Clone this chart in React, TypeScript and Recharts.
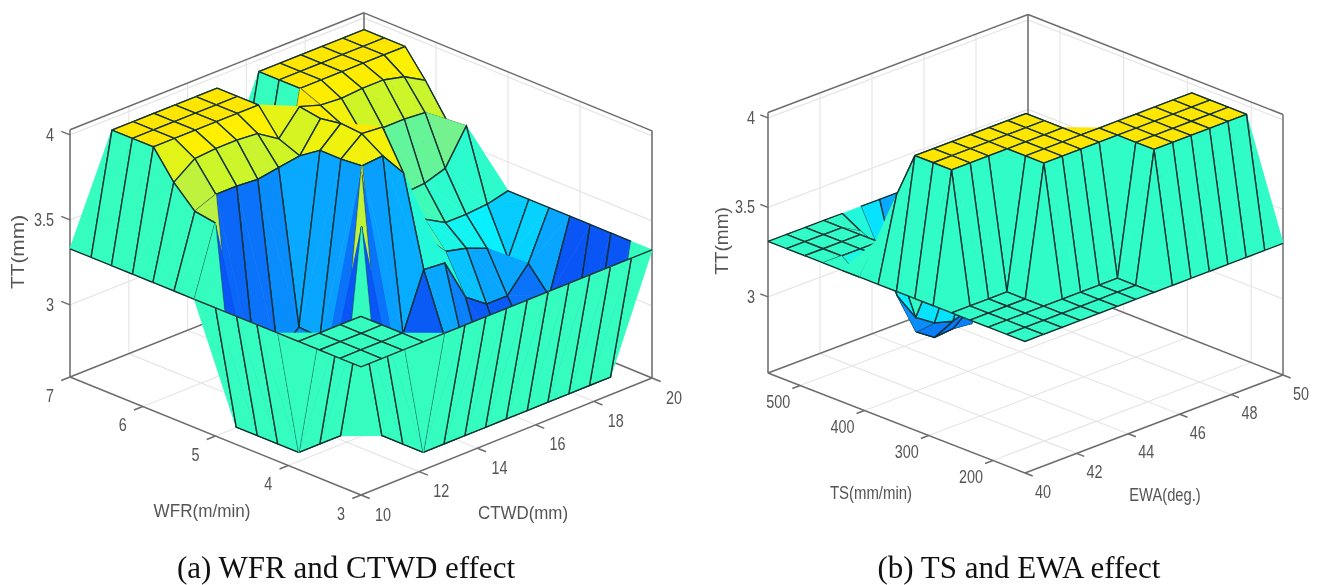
import React from 'react'
import { ScatterChart, Scatter, XAxis, YAxis } from 'recharts'

// grid values of the two surfaces
const ctwdGrid = [10, 10.71, 11.43, 12.14, 12.86, 13.57, 14.29, 15, 15.71, 16.43, 17.14, 17.86, 18.57, 19.29, 20]
const wfrGrid = [3, 3.29, 3.57, 3.86, 4.14, 4.43, 4.71, 5, 5.29, 5.57, 5.86, 6.14, 6.43, 6.71, 7]
const ewaGrid = [40, 40.71, 41.43, 42.14, 42.86, 43.57, 44.29, 45, 45.71, 46.43, 47.14, 47.86, 48.57, 49.29, 50]
const tsGrid = [150, 178.6, 207.1, 235.7, 264.3, 292.9, 321.4, 350, 378.6, 407.1, 435.7, 464.3, 492.9, 521.4, 550]

// TT (mm), one row per WFR value, one column per CTWD value
const ttWfrCtwd = [
  [3.33, 3.33, 3.33, 3.33, 3.33, 3.33, 3.33, 3.33, 3.33, 3.33, 3.33, 3.33, 3.33, 3.33, 3.33],
  [3.33, 3.33, 3.33, 3.33, 2.58, 2.58, 2.58, 2.58, 2.58, 2.58, 2.58, 2.58, 2.58, 2.58, 3.33],
  [3.33, 3.33, 3.33, 3.33, 2.58, 2.58, 2.58, 2.58, 2.58, 2.58, 2.58, 2.58, 2.58, 2.58, 3.33],
  [3.33, 3.33, 3.33, 3.33, 2.58, 2.58, 2.58, 2.58, 2.58, 2.58, 2.58, 2.58, 2.58, 2.58, 3.33],
  [3.33, 2.58, 2.58, 2.58, 3.76, 2.7, 2.65, 2.6, 2.91, 2.75, 2.6, 2.6, 2.7, 2.91, 3.33],
  [3.33, 2.58, 2.58, 2.58, 2.7, 3.98, 2.88, 2.93, 3.26, 3.25, 3.0, 2.91, 2.91, 3.05, 3.33],
  [3.33, 2.58, 2.58, 2.58, 2.7, 2.88, 3.92, 3.93, 3.78, 3.36, 3.22, 3.19, 3.14, 3.03, 3.33],
  [3.33, 2.58, 2.6, 2.7, 2.8, 2.91, 3.91, 4.01, 4.0, 3.6, 3.36, 3.29, 3.29, 3.3, 3.33],
  [3.33, 3.73, 2.65, 2.7, 2.8, 2.92, 3.91, 4.02, 3.91, 3.71, 3.46, 3.47, 3.51, 3.71, 3.33],
  [3.33, 3.75, 3.8, 3.8, 3.79, 3.81, 3.83, 4.0, 3.92, 3.81, 3.8, 3.8, 3.79, 3.7, 3.33],
  [3.33, 3.87, 3.96, 3.97, 3.97, 3.96, 3.88, 4.02, 3.98, 3.97, 3.98, 3.98, 3.95, 3.88, 3.33],
  [3.33, 4.03, 4.03, 4.03, 4.03, 4.03, 4.03, 3.33, 4.03, 4.03, 4.03, 4.03, 4.03, 4.03, 3.33],
  [3.33, 4.03, 4.03, 4.03, 4.03, 4.03, 4.03, 3.33, 4.03, 4.03, 4.03, 4.03, 4.03, 4.03, 3.33],
  [3.33, 4.03, 4.03, 4.03, 4.03, 4.03, 4.03, 3.33, 4.03, 4.03, 4.03, 4.03, 4.03, 4.03, 3.33],
  [3.33, 3.33, 3.33, 3.33, 3.33, 3.33, 3.33, 3.33, 3.33, 3.33, 3.33, 3.33, 3.33, 3.33, 3.33]
]

// TT (mm), one row per TS value, one column per EWA value
const ttTsEwa = [
  [3.31, 3.31, 3.31, 3.31, 3.31, 3.31, 3.31, 3.31, 3.31, 3.31, 3.31, 3.31, 3.31, 3.31, 3.31],
  [3.31, 3.31, 3.31, 3.31, 3.31, 3.31, 3.31, 3.31, 4.03, 4.03, 4.03, 4.03, 4.03, 4.03, 3.31],
  [3.31, 3.31, 3.31, 3.31, 3.31, 3.31, 3.31, 3.31, 4.03, 4.03, 4.03, 4.03, 4.03, 4.03, 3.31],
  [3.31, 3.31, 3.31, 3.31, 4.03, 4.03, 4.03, 4.03, 4.03, 4.03, 4.03, 4.03, 4.03, 4.03, 3.31],
  [3.31, 3.31, 3.31, 3.31, 4.03, 4.03, 4.03, 4.03, 4.03, 4.03, 4.03, 4.03, 4.03, 4.03, 3.31],
  [3.31, 4.03, 4.03, 4.03, 4.03, 4.03, 4.03, 4.03, 3.31, 3.31, 3.31, 3.31, 3.31, 3.31, 3.31],
  [3.31, 4.03, 4.03, 4.03, 4.03, 4.03, 4.03, 4.03, 3.31, 3.31, 3.31, 3.31, 3.31, 3.31, 3.31],
  [3.31, 4.03, 4.03, 4.03, 4.03, 4.03, 4.03, 4.03, 3.31, 3.31, 3.31, 3.31, 3.31, 3.31, 3.31],
  [3.31, 3.77, 3.31, 3.31, 3.31, 3.31, 3.31, 3.31, 3.31, 3.31, 3.31, 3.31, 3.31, 3.31, 3.31],
  [3.31, 3.48, 3.31, 3.31, 3.31, 3.31, 3.31, 3.31, 3.31, 3.31, 3.31, 3.31, 3.31, 3.31, 3.31],
  [3.31, 3.23, 3.31, 3.31, 3.31, 3.1, 3.1, 3.1, 3.31, 3.31, 3.31, 3.31, 3.31, 3.31, 3.31],
  [3.31, 3.31, 3.31, 3.31, 3.15, 2.81, 2.74, 2.71, 2.75, 3.0, 3.31, 3.31, 3.31, 3.31, 3.31],
  [3.31, 3.31, 3.31, 3.31, 3.2, 2.89, 2.65, 2.58, 2.59, 2.58, 3.0, 3.31, 3.31, 3.31, 3.31],
  [3.31, 3.31, 3.31, 3.31, 3.25, 3.1, 2.92, 2.63, 2.58, 2.7, 3.31, 3.31, 3.31, 3.31, 3.31],
  [3.31, 3.31, 3.31, 3.31, 3.31, 3.31, 3.31, 3.31, 3.31, 3.31, 3.31, 3.31, 3.31, 3.31, 3.31]
]

const ttTicks = [3, 3.5, 4]
const ctwdTicks = [10, 12, 14, 16, 18, 20]
const wfrTicks = [3, 4, 5, 6, 7]
const ewaTicks = [40, 42, 44, 46, 48, 50]
const tsTicks = [200, 300, 400, 500]

const colorStops: [number, string][] = [
  [2.58, '#0a55f5'],
  [2.75, '#0a80fa'],
  [2.91, '#08a6ff'],
  [3.05, '#06d2ff'],
  [3.15, '#08f2ff'],
  [3.33, '#35fdc0'],
  [3.5, '#70f290'],
  [3.71, '#b4f04c'],
  [3.8, '#ccf52a'],
  [3.96, '#fff000'],
  [4.03, '#ffe600']
]

const hexToRgb = (hex: string) => [1, 3, 5].map(p => parseInt(hex.slice(p, p + 2), 16))

const colorFor = (z: number) => {
  for (let k = 1; k < colorStops.length; k++) {
    if (z <= colorStops[k][0]) {
      const [z0, c0] = colorStops[k - 1]
      const [z1, c1] = colorStops[k]
      const t = Math.max(0, (z - z0) / (z1 - z0))
      const a = hexToRgb(c0)
      const b = hexToRgb(c1)
      return `rgb(${a.map((v, n) => Math.round(v + (b[n] - v) * t)).join(',')})`
    }
  }
  return colorStops[colorStops.length - 1][1]
}

interface Frame {
  front: number[]
  right: number[]
  left: number[]
  twist: number
  zPx: number
  zMin: number
  zMax: number
  uRange: number[]
  vRange: number[]
}

const frameA: Frame = {
  front: [361, 495], right: [652, 378], left: [70, 377], twist: 3,
  zPx: 170, zMin: 2.576, zMax: 4.03, uRange: [10, 20], vRange: [3, 7]
}
const frameB: Frame = {
  front: [1025, 473], right: [1283, 375], left: [768, 373], twist: 2,
  zPx: 179, zMin: 2.575, zMax: 4.03, uRange: [40, 50], vRange: [150, 550]
}

// 3D value -> page plane, the chart's own x and y axes then place it
const project = (f: Frame, u: number, v: number, z: number) => {
  const fu = (u - f.uRange[0]) / (f.uRange[1] - f.uRange[0])
  const fv = (v - f.vRange[0]) / (f.vRange[1] - f.vRange[0])
  return [
    f.front[0] + fu * (f.right[0] - f.front[0]) + fv * (f.left[0] - f.front[0]) + fu * fv * f.twist,
    f.front[1] + fu * (f.right[1] - f.front[1]) + fv * (f.left[1] - f.front[1]) - (z - f.zMin) * f.zPx
  ]
}

const isConvex = (q: number[][]) => {
  let sign = 0
  for (let n = 0; n < 4; n++) {
    const [a, b, c] = [q[n], q[(n + 1) % 4], q[(n + 2) % 4]]
    const cross = (b[0] - a[0]) * (c[1] - b[1]) - (b[1] - a[1]) * (c[0] - b[0])
    if (cross !== 0) {
      if (sign !== 0 && Math.sign(cross) !== sign) return false
      sign = Math.sign(cross)
    }
  }
  return true
}

// faces ordered back to front so later ones paint over earlier ones
const buildFaces = (f: Frame, us: number[], vs: number[], tt: number[][]) => {
  const faces: any[] = []
  for (let s = us.length + vs.length - 4; s >= 0; s--) {
    for (let j = 0; j < vs.length - 1; j++) {
      const i = s - j
      if (i < 0 || i >= us.length - 1) continue
      const a = project(f, us[i], vs[j], tt[j][i])
      const b = project(f, us[i + 1], vs[j], tt[j][i + 1])
      const c = project(f, us[i + 1], vs[j + 1], tt[j + 1][i + 1])
      const d = project(f, us[i], vs[j + 1], tt[j + 1][i])
      const x = (a[0] + b[0] + c[0] + d[0]) / 4
      const y = (a[1] + b[1] + c[1] + d[1]) / 4
      faces.push({ x, y, pts: [a, b, c, d], fill: colorFor(tt[j][i]), convex: isConvex([a, b, c, d]) })
    }
  }
  return faces
}

const segment = (p: number[], q: number[]) => ({ x: (p[0] + q[0]) / 2, y: (p[1] + q[1]) / 2, p, q })

const buildGrid = (f: Frame, uTicks: number[], vTicks: number[]) => {
  const [u0, u1] = f.uRange
  const [v0, v1] = f.vRange
  const out: any[] = []
  uTicks.forEach(u => {
    out.push(segment(project(f, u, v0, f.zMin), project(f, u, v1, f.zMin)))
    out.push(segment(project(f, u, v1, f.zMin), project(f, u, v1, f.zMax)))
  })
  vTicks.forEach(v => {
    out.push(segment(project(f, u0, v, f.zMin), project(f, u1, v, f.zMin)))
    out.push(segment(project(f, u1, v, f.zMin), project(f, u1, v, f.zMax)))
  })
  ttTicks.forEach(z => {
    out.push(segment(project(f, u0, v1, z), project(f, u1, v1, z)))
    out.push(segment(project(f, u1, v1, z), project(f, u1, v0, z)))
  })
  return out
}

const buildBox = (f: Frame, uTicks: number[], vTicks: number[]) => {
  const [u0, u1] = f.uRange
  const [v0, v1] = f.vRange
  const du = (u1 - u0) * 0.03
  const dv = (v1 - v0) * 0.03
  const out = [
    segment(project(f, u0, v0, f.zMin), project(f, u1, v0, f.zMin)),
    segment(project(f, u0, v0, f.zMin), project(f, u0, v1, f.zMin)),
    segment(project(f, u1, v1, f.zMin), project(f, u0, v1, f.zMin)),
    segment(project(f, u1, v1, f.zMin), project(f, u1, v0, f.zMin)),
    segment(project(f, u0, v1, f.zMin), project(f, u0, v1, f.zMax)),
    segment(project(f, u1, v1, f.zMin), project(f, u1, v1, f.zMax)),
    segment(project(f, u1, v0, f.zMin), project(f, u1, v0, f.zMax)),
    segment(project(f, u0, v1, f.zMax), project(f, u1, v1, f.zMax)),
    segment(project(f, u1, v1, f.zMax), project(f, u1, v0, f.zMax))
  ]
  uTicks.forEach(u => out.push(segment(project(f, u, v0, f.zMin), project(f, u, v0 - dv, f.zMin))))
  vTicks.forEach(v => out.push(segment(project(f, u0, v, f.zMin), project(f, u0 - du, v, f.zMin))))
  ttTicks.forEach(z => out.push(segment(project(f, u0, v1, z), project(f, u0, v1 + dv, z))))
  return out
}

const buildLabels = (f: Frame, uTicks: number[], vTicks: number[], du: number[], dv: number[], zx: number) => {
  const [u0] = f.uRange
  const [v0, v1] = f.vRange
  const out: any[] = []
  uTicks.forEach(u => {
    const p = project(f, u, v0, f.zMin)
    out.push({ x: p[0] + du[0], y: p[1] + du[1], text: String(u) })
  })
  vTicks.forEach(v => {
    const p = project(f, u0, v, f.zMin)
    out.push({ x: p[0] + dv[0], y: p[1] + dv[1], text: String(v) })
  })
  ttTicks.forEach(z => {
    const p = project(f, u0, v1, z)
    out.push({ x: zx, y: p[1] - 1, text: String(z), anchor: 'end' })
  })
  return out
}

const facesA = buildFaces(frameA, ctwdGrid, wfrGrid, ttWfrCtwd)
const facesB = buildFaces(frameB, ewaGrid, tsGrid, ttTsEwa)
const gridLines = [...buildGrid(frameA, ctwdTicks, wfrTicks), ...buildGrid(frameB, ewaTicks, tsTicks)]
const boxLines = [...buildBox(frameA, ctwdTicks, wfrTicks), ...buildBox(frameB, ewaTicks, tsTicks)]
const tickLabels = [
  ...buildLabels(frameA, ctwdTicks, wfrTicks, [22, 19], [-20, 18], 54),
  ...buildLabels(frameB, ewaTicks, tsTicks, [18, 18], [-22, 16], 755)
]
const axisLabels = [
  { x: 202, y: 511, text: 'WFR(m/min)', stretch: 0.95 },
  { x: 523, y: 513, text: 'CTWD(mm)', stretch: 0.94 },
  { x: 18, y: 252, text: 'TT(mm)', rotate: -90, stretch: 1.16 },
  { x: 871, y: 493, text: 'TS(mm/min)', stretch: 0.83 },
  { x: 1165, y: 494, text: 'EWA(deg.)', stretch: 0.82 },
  { x: 722, y: 241, text: 'TT(mm)', rotate: -90, stretch: 1.06 }
]
const captions = [
  { x: 346, y: 567, text: '(a) WFR and CTWD effect' },
  { x: 1019, y: 567, text: '(b) TS and EWA effect' }
]

const pathOf = (pts: number[][], ox: number, oy: number) =>
  pts.map((p, n) => `${n ? 'L' : 'M'}${(p[0] - ox).toFixed(2)} ${(p[1] - oy).toFixed(2)}`).join('')

const LINE = '#0f2f30'

// a cell is filled as two triangles split on one diagonal, then outlined
const FaceShape = ({ cx, cy, payload }: any) => {
  const { pts, fill, convex, x, y } = payload
  const ox = x - cx
  const oy = y - cy
  const [a, b, c, d] = pts
  const near = pathOf([d, a, b], ox, oy)
  const far = pathOf([b, c, d], ox, oy)
  return (
    <g>
      <path d={pathOf([b, d, a], ox, oy) + 'Z'} fill={fill} stroke={fill} strokeWidth={0.6} />
      <path d={pathOf([b, d, c], ox, oy) + 'Z'} fill={fill} stroke={fill} strokeWidth={0.6} />
      {convex && <path d={far} fill="none" stroke={LINE} strokeWidth={1.35} />}
      <path d={near} fill="none" stroke={LINE} strokeWidth={1.35} />
    </g>
  )
}

const lineShape = (stroke: string, width: number) => ({ cx, cy, payload }: any) => {
  const { p, q, x, y } = payload
  const ox = x - cx
  const oy = y - cy
  return <line x1={p[0] - ox} y1={p[1] - oy} x2={q[0] - ox} y2={q[1] - oy} stroke={stroke} strokeWidth={width} />
}

const textShape = (family: string, size: number, fill: string, stretch = 1) => ({ cx, cy, payload }: any) => (
  <text
    x={0}
    y={0}
    fontFamily={family}
    fontSize={size}
    fill={fill}
    textAnchor={payload.anchor || 'middle'}
    dominantBaseline="central"
    transform={`translate(${cx} ${cy}) rotate(${payload.rotate || 0}) scale(${payload.stretch || stretch} 1)`}
  >
    {payload.text}
  </text>
)

const GridShape = lineShape('#e6e6e6', 1.2)
const BoxShape = lineShape('#6c6c6c', 1.5)
const TickText = textShape('"Liberation Sans", Arial, sans-serif', 18, '#555555', 0.8)
const AxisText = textShape('"Liberation Sans", Arial, sans-serif', 18, '#555555')
const CaptionText = textShape('"Liberation Serif", "Times New Roman", serif', 31, '#111111')

export default function App() {
  return (
    <div style={{ position: 'absolute', left: 0, top: 0, width: 1320, height: 585, background: '#fff', overflow: 'hidden', filter: 'blur(0.5px)' }}>
      <ScatterChart width={1320} height={585} margin={{ top: 0, right: 0, bottom: 0, left: 0 }}>
        <XAxis type="number" dataKey="x" domain={[0, 1320]} hide />
        <YAxis type="number" dataKey="y" domain={[0, 585]} reversed hide />
        <Scatter data={gridLines} shape={GridShape} isAnimationActive={false} />
        <Scatter data={boxLines} shape={BoxShape} isAnimationActive={false} />
        <Scatter data={facesA} shape={FaceShape} isAnimationActive={false} />
        <Scatter data={facesB} shape={FaceShape} isAnimationActive={false} />
        <Scatter data={tickLabels} shape={TickText} isAnimationActive={false} />
        <Scatter data={axisLabels} shape={AxisText} isAnimationActive={false} />
        <Scatter data={captions} shape={CaptionText} isAnimationActive={false} />
      </ScatterChart>
    </div>
  )
}
